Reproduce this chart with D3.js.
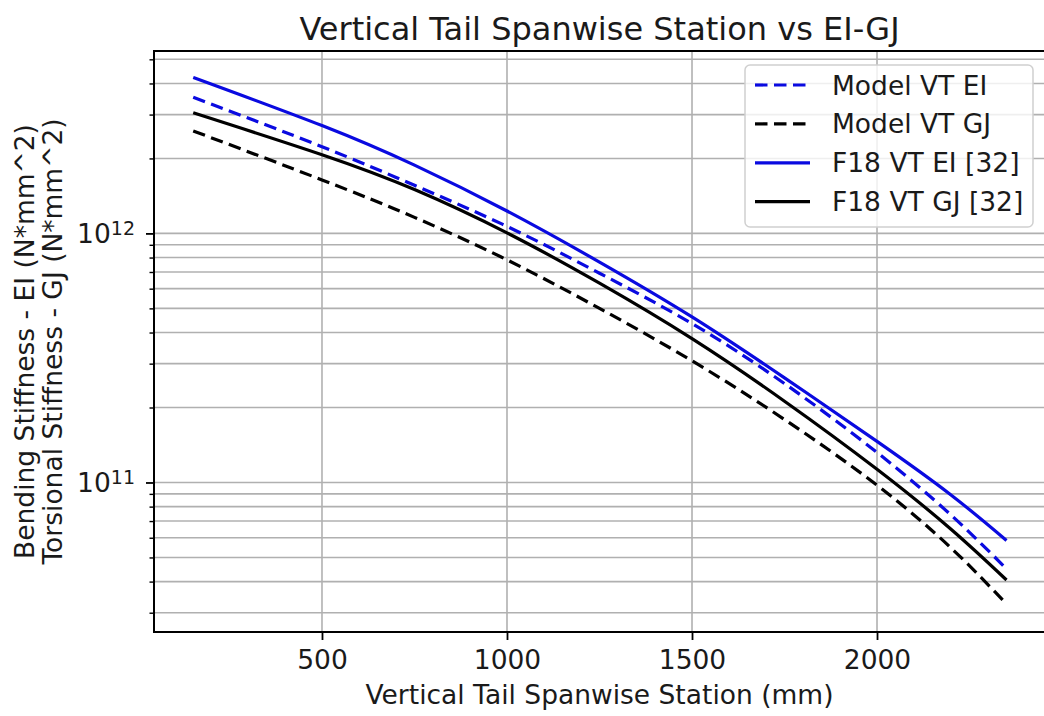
<!DOCTYPE html>
<html>
<head>
<meta charset="utf-8">
<script src="https://cdn.jsdelivr.net/npm/d3@7"></script>
<style>
  body { margin: 0; background: #fff; }
  svg { display: block; font-family: "DejaVu Sans", sans-serif; }
</style>
</head>
<body>
<div id="chart"></div>
<script>
// data (stiffness in N*mm^2, station in mm)
var stations = [152, 500, 750, 1000, 1250, 1500, 1750, 2000, 2200, 2350];
var modelEI = [3.52e12, 2.23e12, 1.56e12, 1.067e12, 6.92e11, 4.345e11, 2.495e11, 1.32e11, 7.4e10, 4.5e10];
var modelGJ = [2.58e12, 1.64e12, 1.16e12, 7.83e11, 5.00e11, 3.08e11, 1.79e11, 9.75e10, 5.46e10, 3.25e10];
var f18EI = [4.23e12, 2.71e12, 1.88e12, 1.23e12, 7.67e11, 4.62e11, 2.63e11, 1.462e11, 8.91e10, 5.85e10];
var f18GJ = [3.05e12, 2.07e12, 1.50e12, 1.005e12, 6.31e11, 3.78e11, 2.12e11, 1.13e11, 6.49e10, 4.06e10];

var seriesNames = ["Model VT EI", "Model VT GJ", "F18 VT EI [32]", "F18 VT GJ [32]"];
var seriesVals = [modelEI, modelGJ, f18EI, f18GJ];
var seriesColor = ["#0a0ae0", "#000000", "#0a0ae0", "#000000"];
var seriesDash = [true, true, false, false];

var xTicks = [500, 1000, 1500, 2000];
var yMajor = [1e11, 1e12];
var yMinor = [3e10, 4e10, 5e10, 6e10, 7e10, 8e10, 9e10,
  2e11, 3e11, 4e11, 5e11, 6e11, 7e11, 8e11, 9e11,
  2e12, 3e12, 4e12, 5e12];

// placement
var W = 1044, H = 716;
var pLeft = 154, pTop = 51, pRight = 1045, pBottom = 632;
var fs = 26.5;
var dashes = "12.5,6.5";

var svg = d3.select("#chart").append("svg")
  .attr("width", W)
  .attr("height", H);

var x = d3.scaleLinear().domain([46, 2454]).range([pLeft, pRight]);
var y = d3.scaleLog().domain([2.51e10, 5.4e12]).range([pBottom, pTop]);

// grid
var grid = svg.append("g");
grid.selectAll(".hg")
  .data(yMajor.concat(yMinor))
  .enter().append("line")
  .attr("x1", pLeft).attr("x2", pRight)
  .attr("y1", function(d) { return y(d); })
  .attr("y2", function(d) { return y(d); })
  .attr("stroke", "#b0b0b0")
  .attr("stroke-width", 1.6);
grid.selectAll(".vg")
  .data(xTicks)
  .enter().append("line")
  .attr("y1", pTop).attr("y2", pBottom)
  .attr("x1", function(d) { return x(d); })
  .attr("x2", function(d) { return x(d); })
  .attr("stroke", "#b0b0b0")
  .attr("stroke-width", 1.6);

// lines
var line = d3.line()
  .x(function(d) { return x(d[0]); })
  .y(function(d) { return y(d[1]); })
  .curve(d3.curveNatural);

var plot = svg.append("g");
seriesVals.forEach(function(vals, i) {
  plot.append("path")
    .datum(stations.map(function(s, j) { return [s, vals[j]]; }))
    .attr("d", line)
    .attr("fill", "none")
    .attr("stroke", seriesColor[i])
    .attr("stroke-width", 3.2)
    .attr("stroke-dasharray", seriesDash[i] ? dashes : null);
});

// axes
var xAxis = d3.axisBottom(x).tickValues(xTicks).tickSize(8).tickPadding(10).tickFormat(d3.format("d"));
var gx = svg.append("g")
  .attr("transform", "translate(0," + pBottom + ")")
  .call(xAxis);
gx.select(".domain").remove();
gx.selectAll("line").attr("stroke", "#000").attr("stroke-width", 1.8);
gx.selectAll("text")
  .attr("font-size", fs)
  .attr("fill", "#1a1a1a")
  .attr("font-family", "DejaVu Sans");

var yAxis = d3.axisLeft(y).tickValues(yMajor).tickSize(8).tickFormat("");
var gy = svg.append("g")
  .attr("transform", "translate(" + pLeft + ",0)")
  .call(yAxis);
gy.select(".domain").remove();
gy.selectAll("line").attr("stroke", "#000").attr("stroke-width", 1.8);

var yMinorAxis = d3.axisLeft(y).tickValues(yMinor).tickSize(4.5).tickFormat("");
var gym = svg.append("g")
  .attr("transform", "translate(" + pLeft + ",0)")
  .call(yMinorAxis);
gym.select(".domain").remove();
gym.selectAll("line").attr("stroke", "#000").attr("stroke-width", 1.4);

// y tick labels with superscripts
var yl = svg.append("g");
yMajor.forEach(function(v) {
  var t = yl.append("text")
    .attr("x", pLeft - 19)
    .attr("y", y(v) + 10)
    .attr("text-anchor", "end")
    .attr("font-size", fs)
    .attr("fill", "#1a1a1a");
  t.append("tspan").text("10");
  t.append("tspan")
    .attr("font-size", 19)
    .attr("dy", -8)
    .text(Math.round(Math.log10(v)));
});

// spines
svg.append("rect")
  .attr("x", pLeft).attr("y", pTop)
  .attr("width", pRight - pLeft).attr("height", pBottom - pTop)
  .attr("fill", "none")
  .attr("stroke", "#000")
  .attr("stroke-width", 2);

// title and axis labels
svg.append("text")
  .attr("x", (pLeft + pRight) / 2)
  .attr("y", 40)
  .attr("text-anchor", "middle")
  .attr("font-size", 32)
  .attr("fill", "#1a1a1a")
  .text("Vertical Tail Spanwise Station vs EI-GJ");

svg.append("text")
  .attr("x", (pLeft + pRight) / 2)
  .attr("y", 704)
  .attr("text-anchor", "middle")
  .attr("font-size", fs)
  .attr("fill", "#1a1a1a")
  .text("Vertical Tail Spanwise Station (mm)");

var ylab = svg.append("text")
  .attr("transform", "translate(0," + ((pTop + pBottom) / 2) + ") rotate(-90)")
  .attr("text-anchor", "middle")
  .attr("font-size", fs)
  .attr("fill", "#1a1a1a");
ylab.append("tspan").attr("x", 0).attr("y", 33.5).text("Bending Stiffness - EI (N*mm^2)");
ylab.append("tspan").attr("x", 0).attr("y", 62).text("Torsional Stiffness - GJ (N*mm^2)");

// legend
var leg = svg.append("g").attr("transform", "translate(745,65)");
leg.append("rect")
  .attr("width", 288).attr("height", 162)
  .attr("rx", 5)
  .attr("fill", "rgba(255,255,255,0.8)")
  .attr("stroke", "#d0d0d0")
  .attr("stroke-width", 1.5);
seriesNames.forEach(function(name, i) {
  var ry = 20 + i * 38.9;
  leg.append("line")
    .attr("x1", 10).attr("x2", 65)
    .attr("y1", ry).attr("y2", ry)
    .attr("stroke", seriesColor[i])
    .attr("stroke-width", 3.2)
    .attr("stroke-dasharray", seriesDash[i] ? dashes : null);
  leg.append("text")
    .attr("x", 87)
    .attr("y", ry + 9.5)
    .attr("font-size", fs)
    .attr("fill", "#1a1a1a")
    .text(name);
});
</script>
</body>
</html>
